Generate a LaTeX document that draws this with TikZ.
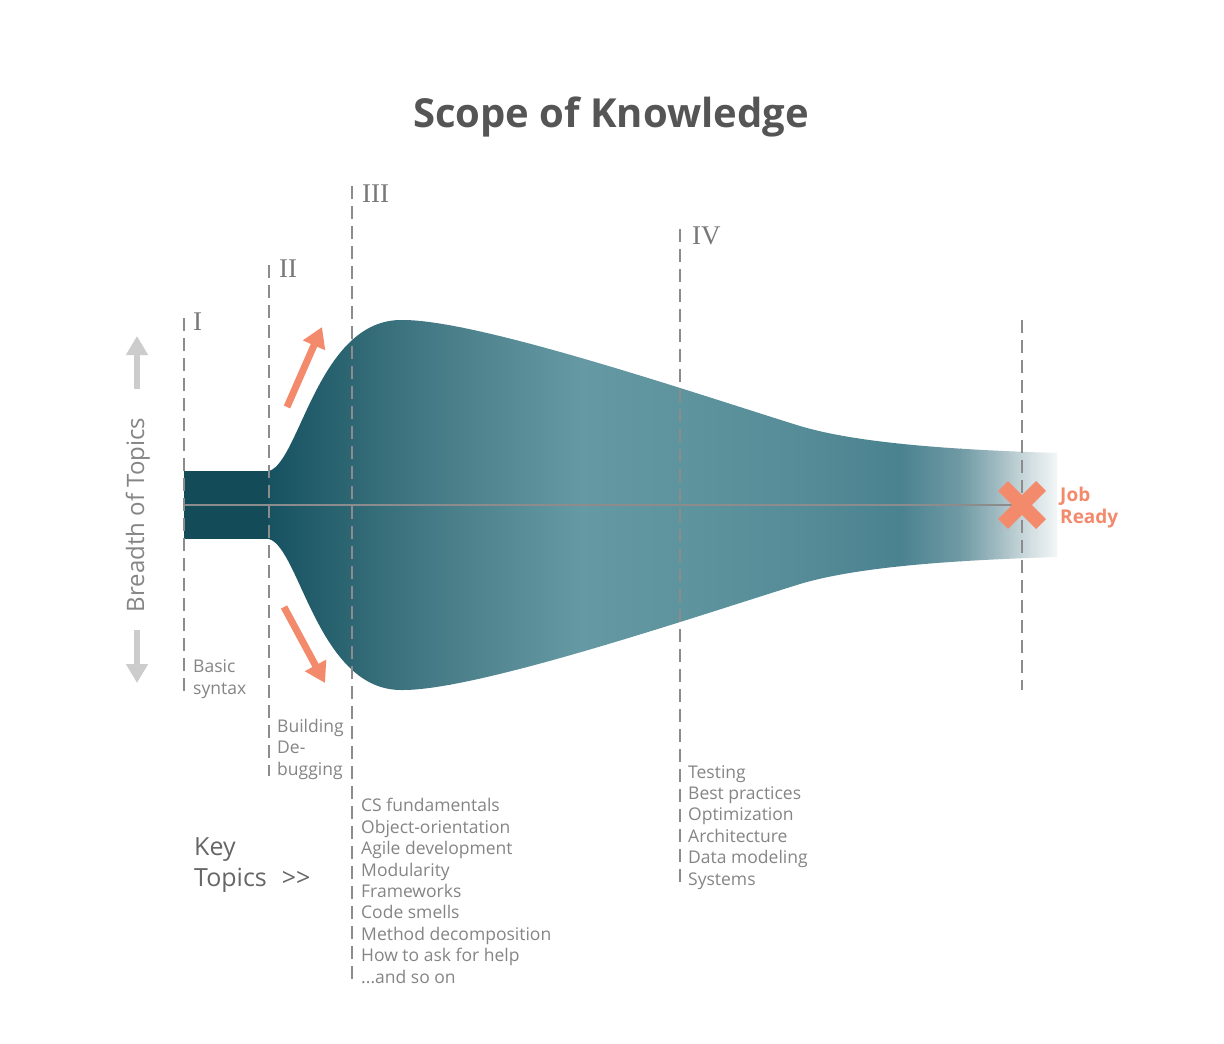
\documentclass[tikz,border=0pt]{standalone}
\usepackage{fontspec}
\setmainfont{Open Sans}
\newfontfamily\numfont{Liberation Serif}
\usetikzlibrary{arrows.meta,positioning}
\definecolor{titlegray}{HTML}{555555}
\definecolor{labelgray}{HTML}{858585}
\definecolor{keygray}{HTML}{666666}
\definecolor{guidegray}{HTML}{8C8C8C}
\definecolor{hintgray}{HTML}{CCCCCC}
\definecolor{jobred}{HTML}{F48A6C}
\definecolor{stem}{HTML}{134B58}
\definecolor{s0}{HTML}{175262}
\definecolor{s1}{HTML}{2E6773}
\definecolor{s2}{HTML}{4A7F8A}
\definecolor{s3}{HTML}{6599A3}
\definecolor{s4}{HTML}{5E949E}
\definecolor{s5}{HTML}{558C97}
\definecolor{s6}{HTML}{4B8290}
\definecolor{s7}{HTML}{6F9AA4}
\definecolor{s8}{HTML}{A5BEC4}
\definecolor{s9}{HTML}{D2DEE1}
\definecolor{s10}{HTML}{F4F7F8}

\begin{document}
\begin{tikzpicture}[
    x=1pt, y=-1pt,
    guide/.style={draw=guidegray, line width=2.4pt, dash pattern=on 13pt off 7pt},
    stage/.style={font=\numfont\fontsize{27}{30}\selectfont, text=labelgray!90!black, inner sep=0pt, anchor=base west},
    topic/.style={font=\fontsize{17.5}{21.4}\selectfont, text=labelgray, align=left, inner sep=0pt, anchor=base west},
    growarrow/.style={draw=jobred, line width=7pt, -{Triangle[width=23pt,length=20pt]}},
    hintarrow/.style={draw=hintgray, line width=6pt, -{Triangle[width=21pt,length=19pt]}}
]
\useasboundingbox (0,0) rectangle (1224,1044);
\fill[white] (0,0) rectangle (1224,1044);

% title
\node[font=\fontsize{40}{48}\selectfont\bfseries, text=titlegray, inner sep=0pt, anchor=base] (title) at (611,127) {Scope of Knowledge};

% the knowledge funnel
\fill[stem] (184,471) rectangle (270,539);
\begin{scope}
\clip (269,471) .. controls (300,462) and (318,318) .. (403,320)
    .. controls (480,320) and (700,395) .. (800,426)
    .. controls (860,444) and (960,450) .. (1057,453)
    -- (1057,557)
    .. controls (960,560) and (860,566) .. (800,584)
    .. controls (700,615) and (480,690) .. (403,690)
    .. controls (318,692) and (300,548) .. (269,539) -- cycle;
\foreach \xa/\xb/\ca/\cb in {269/352/s0/s1, 352/450/s1/s2, 450/580/s2/s3, 580/680/s3/s4,
    680/800/s4/s5, 800/900/s5/s6, 900/960/s6/s7, 960/1000/s7/s8, 1000/1030/s8/s9, 1030/1058/s9/s10}
    \shade[left color=\ca, right color=\cb] (\xa,300) rectangle (\xb+0.7,710);
\end{scope}

% axis through the middle
\coordinate (axisL) at (184,505);
\coordinate (jobX) at (1022,505);
\draw[guidegray, line width=2.2pt] (axisL) -- (jobX);

% stage guides
\draw[guide] (184,318) -- (184,697);
\draw[guide] (269,265) -- (269,776);
\draw[guide] (352,186) -- (352,985);
\draw[guide] (680,229) -- (680,887);
\draw[guide] (1022,320) -- (1022,690);

\node[stage] (st1) at (193,330) {I};
\node[stage] (st2) at (279,277) {II};
\node[stage] (st3) at (362,202) {III};
\node[stage] (st4) at (692,244) {IV};

% job ready mark
\draw[jobred, line width=14pt] ([shift={(-19,-19)}]jobX) -- ([shift={(19,19)}]jobX);
\draw[jobred, line width=14pt] ([shift={(-19,19)}]jobX) -- ([shift={(19,-19)}]jobX);
\node[font=\fontsize{19}{21.5}\selectfont\bfseries, text=jobred, align=left, inner sep=0pt, anchor=base west] (job) at (1060,523) {Job\\Ready};

% growth arrows
\coordinate (upA) at (287,407);
\coordinate (upB) at (322,327);
\coordinate (dnA) at (284,607);
\coordinate (dnB) at (325,683);
\draw[growarrow] (upA) -- (upB);
\draw[growarrow] (dnA) -- (dnB);

% breadth axis
\coordinate (brUpA) at (137,389);
\coordinate (brUpB) at (137,336);
\coordinate (brDnA) at (137,630);
\coordinate (brDnB) at (137,683);
\draw[hintarrow] (brUpA) -- (brUpB);
\draw[hintarrow] (brDnA) -- (brDnB);
\node[font=\fontsize{24}{28}\selectfont, text=labelgray, inner sep=0pt, anchor=base, rotate=90] (breadth) at (144,515) {Breadth of Topics};

% topics per stage (base = last line)
\node[topic] (tp1) at (193,694) {Basic\\syntax};
\node[topic] (tp2) at (277,775) {Building\\De-\\bugging};
\node[topic] (tp3) at (361,983) {CS fundamentals\\Object-orientation\\Agile development\\Modularity\\Frameworks\\Code smells\\Method decomposition\\How to ask for help\\...and so on};
\node[topic] (tp4) at (688,885) {Testing\\Best practices\\Optimization\\Architecture\\Data modeling\\Systems};

\node[font=\fontsize{25}{31}\selectfont, text=keygray, align=left, inner sep=0pt, anchor=base west] (key) at (194,886) {Key\\Topics\hspace{0.6em}{>}{>}};

\end{tikzpicture}
\end{document}
